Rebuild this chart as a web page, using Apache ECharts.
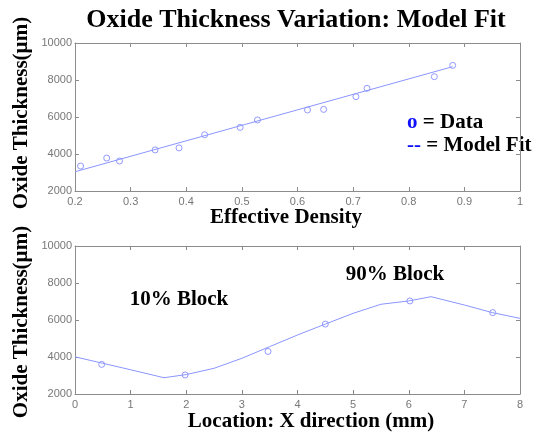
<!DOCTYPE html>
<html>
<head>
<meta charset="utf-8">
<script src="https://cdn.jsdelivr.net/npm/echarts@6/dist/echarts.min.js"></script>
<style>
  html, body { margin: 0; padding: 0; background: #fff; }
  #main { width: 541px; height: 432px; }
</style>
</head>
<body>
<div id="main"></div>
<script>
// top plot: thickness vs effective density
var densityData = [0.21, 0.257, 0.28, 0.344, 0.387, 0.433, 0.497, 0.528, 0.618, 0.647, 0.705, 0.725, 0.846, 0.879];
var densityThick = [3350, 3780, 3620, 4220, 4330, 5040, 5440, 5840, 6380, 6410, 7100, 7550, 8180, 8790];
var densityFitX = [0.2, 0.879];
var densityFitY = [3040, 8720];

// bottom plot: thickness vs location
var locData = [0.48, 1.98, 3.47, 4.5, 6.02, 7.51];
var locThick = [3600, 3030, 4300, 5780, 7030, 6400];
var locFitX = [0, 0.5, 1, 1.6, 2, 2.5, 3, 3.5, 4, 4.5, 5, 5.5, 6, 6.4, 7, 7.5, 8];
var locFitY = [4010, 3660, 3310, 2880, 3050, 3390, 3930, 4560, 5190, 5780, 6360, 6850, 7030, 7260, 6810, 6400, 6090];

function pairs(xs, ys) {
    return xs.map(function (x, i) { return [x, ys[i]]; });
}

var serif = '"Liberation Serif", "Times New Roman", serif';
var axisGray = '#8c8c8c';
var lineBlue = '#8a95ff';
var dotBlue = '#7880ff';

function xAx(gi, min, max, step, pos, labels) {
    return {
        type: 'value', gridIndex: gi, min: min, max: max, interval: step, position: pos,
        axisLine: { show: true, onZero: false, lineStyle: { color: axisGray } },
        axisTick: { show: true, inside: true, length: 4, lineStyle: { color: axisGray } },
        axisLabel: { show: labels, color: '#777', fontSize: 11, fontFamily: 'Liberation Sans', margin: 5,
            formatter: function (v) { return String(v); } },
        splitLine: { show: false }
    };
}
function yAx(gi, pos, labels) {
    return {
        type: 'value', gridIndex: gi, min: 2000, max: 10000, interval: 2000, position: pos,
        axisLine: { show: true, onZero: false, lineStyle: { color: axisGray } },
        axisTick: { show: true, inside: true, length: 4, lineStyle: { color: axisGray } },
        axisLabel: { show: labels, color: '#777', fontSize: 11, fontFamily: 'Liberation Sans', margin: 3,
            formatter: function (v) { return String(v); } },
        splitLine: { show: false }
    };
}

function label(txt, x, y, size, rot) {
    return {
        type: 'text', x: x, y: y, rotation: rot || 0,
        style: { text: txt, font: 'bold ' + size + 'px ' + serif, fill: '#000', align: 'center', verticalAlign: 'middle' }
    };
}

var dotStyle = { color: 'rgba(255,255,255,0)', borderColor: dotBlue, borderWidth: 1 };

var chart = echarts.init(document.getElementById('main'));
chart.setOption({
    animation: false,
    grid: [
        { left: 75, right: 21, top: 43, height: 148 },
        { left: 75, right: 21, top: 246, height: 148 }
    ],
    xAxis: [
        xAx(0, 0.2, 1, 0.1, 'bottom', true),
        xAx(0, 0.2, 1, 0.1, 'top', false),
        xAx(1, 0, 8, 1, 'bottom', true),
        xAx(1, 0, 8, 1, 'top', false)
    ],
    yAxis: [
        yAx(0, 'left', true),
        yAx(0, 'right', false),
        yAx(1, 'left', true),
        yAx(1, 'right', false)
    ],
    series: [
        {
            type: 'line', xAxisIndex: 0, yAxisIndex: 0, data: pairs(densityFitX, densityFitY),
            showSymbol: false, lineStyle: { color: lineBlue, width: 1 }
        },
        {
            type: 'scatter', xAxisIndex: 0, yAxisIndex: 0, data: pairs(densityData, densityThick),
            symbol: 'circle', symbolSize: 6, itemStyle: dotStyle
        },
        {
            type: 'line', xAxisIndex: 2, yAxisIndex: 2, data: pairs(locFitX, locFitY),
            showSymbol: false, lineStyle: { color: lineBlue, width: 1 }
        },
        {
            type: 'scatter', xAxisIndex: 2, yAxisIndex: 2, data: pairs(locData, locThick),
            symbol: 'circle', symbolSize: 6, itemStyle: dotStyle
        }
    ],
    graphic: [
        label('Oxide Thickness Variation: Model Fit', 296, 20, 26),
        {
            type: 'text', x: 407, y: 123,
            style: {
                text: '{b|o} = Data', font: 'bold 21px ' + serif, fill: '#000', verticalAlign: 'middle',
                rich: { b: { fill: '#1010ff', fontWeight: 'bold', fontSize: 21, fontFamily: serif } }
            }
        },
        {
            type: 'text', x: 407, y: 146,
            style: {
                text: '{b|--} = Model Fit', font: 'bold 21px ' + serif, fill: '#000', verticalAlign: 'middle',
                rich: { b: { fill: '#1010ff', fontWeight: 'bold', fontSize: 21, fontFamily: serif } }
            }
        },
        label('Effective Density', 286, 218, 21),
        label('Location: X direction (mm)', 311, 422, 21),
        label('10% Block', 179, 300, 21),
        label('90% Block', 395, 275, 21),
        label('Oxide Thickness(\u00b5m)', 22, 113, 21, Math.PI / 2),
        label('Oxide Thickness(\u00b5m)', 22, 322, 21, Math.PI / 2)
    ]
});
</script>
</body>
</html>
